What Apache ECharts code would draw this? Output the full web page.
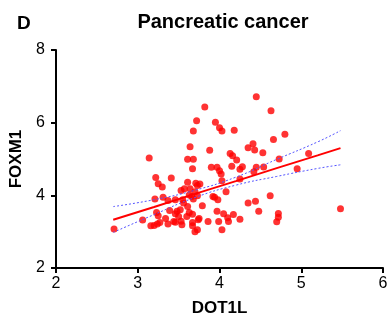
<!DOCTYPE html>
<html>
<head>
<meta charset="utf-8">
<script src="https://cdn.jsdelivr.net/npm/echarts@6/dist/echarts.min.js"></script>
<style>
    html, body { margin: 0; padding: 0; background: #fff; }
    #main { width: 391px; height: 322px; }
</style>
</head>
<body>
<div id="main"></div>
<script type="text/javascript">
// DOT1L (x) vs FOXM1 (y)
var dot1l = [2.71, 3.14, 3.06, 3.22, 3.25, 3.30, 3.41, 3.21, 3.31, 3.37,
    3.23, 3.25, 3.16, 3.20, 3.24, 3.27, 3.34, 3.37, 3.39, 3.44,
    3.46, 3.48, 3.50, 3.52, 3.54, 3.55, 3.56, 3.61, 3.60, 3.53,
    3.57, 3.61, 3.64, 3.63, 3.66, 3.68, 3.67, 3.67, 3.67, 3.70,
    3.73, 3.74, 3.75, 3.71, 3.73, 3.76, 3.73, 3.79, 3.61, 3.68,
    3.67, 3.64, 3.68, 3.72, 3.82, 3.88, 3.90, 3.86, 3.92, 3.94,
    3.98, 3.97, 3.99, 4.03, 4.05, 4.10, 4.11, 4.17, 4.25, 4.08,
    4.03, 4.02, 4.00, 3.97, 3.95, 4.00, 4.03, 4.18, 4.13, 4.16,
    4.21, 4.15, 4.25, 4.28, 4.25, 4.35, 4.41, 4.43, 4.53, 4.45,
    4.63, 4.66, 4.80, 4.45, 4.42, 4.54, 4.73, 4.95, 5.09, 4.35,
    4.44, 4.48, 4.62, 4.72, 4.72, 4.70, 5.48, 3.70, 3.46, 3.63,
    3.46, 3.53];
var foxm1 = [3.07, 5.03, 3.32, 4.49, 4.32, 4.23, 4.48, 3.90, 3.95, 3.86,
    3.53, 3.44, 3.16, 3.17, 3.21, 3.25, 3.36, 3.21, 3.58, 3.28,
    3.49, 3.56, 3.42, 3.60, 3.19, 3.88, 3.79, 3.69, 3.42, 4.13,
    4.18, 4.36, 4.18, 4.01, 3.97, 3.90, 3.48, 3.25, 3.16, 3.00,
    3.05, 3.33, 3.36, 4.33, 4.27, 4.31, 3.99, 3.71, 4.99, 4.99,
    4.73, 5.34, 5.77, 6.05, 6.43, 5.24, 4.77, 3.28, 3.97, 3.95,
    3.88, 3.56, 3.28, 3.05, 3.49, 3.38, 3.28, 3.47, 3.34, 4.10,
    4.40, 4.59, 4.68, 4.77, 6.01, 5.86, 5.77, 5.79, 5.15, 5.09,
    4.97, 4.80, 4.72, 4.79, 4.45, 5.31, 5.42, 5.25, 5.17, 6.71,
    6.33, 5.54, 5.68, 4.77, 4.65, 4.78, 5.00, 4.73, 5.15, 3.79,
    3.84, 3.56, 3.99, 3.50, 3.40, 3.27, 3.63, 4.10, 3.88, 3.53,
    3.26, 3.29];

// fitted line and 95% band
var fitX = [2.70, 3.20, 3.70, 4.20, 4.70, 5.20, 5.48];
var fitY = [3.33, 3.68, 4.04, 4.39, 4.75, 5.10, 5.30];
var bandUpper = [3.69, 3.88, 4.14, 4.50, 4.99, 5.47, 5.78];
var bandLower = [2.98, 3.47, 3.94, 4.28, 4.52, 4.74, 4.84];

var xTicks = [2, 3, 4, 5, 6];
var yTicks = [2, 4, 6, 8];

function pairs(xs, ys) {
    var out = [];
    for (var i = 0; i < xs.length; i++) out.push([xs[i], ys[i]]);
    return out;
}

var font = 'Liberation Sans, Arial, sans-serif';
var axisLine = { show: true, onZero: false, lineStyle: { color: '#000', width: 2 } };

var myChart = echarts.init(document.getElementById('main'));
var option = {
    animation: false,
    backgroundColor: '#fff',
    title: [{
        text: 'Pancreatic cancer',
        left: 218, top: 7, textAlign: 'center',
        textStyle: { fontFamily: font, fontSize: 20, fontWeight: 'bold', color: '#000' }
    }, {
        text: 'D',
        left: 12, top: 9,
        textStyle: { fontFamily: font, fontSize: 19, fontWeight: 'bold', color: '#000' }
    }],
    grid: { left: 56, right: 8, top: 50, bottom: 54 },
    xAxis: {
        type: 'value', min: 2, max: 6, interval: 1,
        name: 'DOT1L', nameLocation: 'middle', nameGap: 32,
        nameTextStyle: { fontFamily: font, fontSize: 17, fontWeight: 'bold', color: '#000' },
        axisLine: axisLine,
        axisTick: { show: true, length: 5, lineStyle: { color: '#000', width: 2 } },
        axisLabel: { fontFamily: font, fontSize: 16, color: '#000', margin: 8,
            formatter: function (v) { return xTicks.indexOf(v) >= 0 ? String(v) : ''; } },
        splitLine: { show: false }
    },
    yAxis: {
        type: 'value', min: 2, max: 8, interval: 2,
        name: 'FOXM1', nameLocation: 'middle', nameGap: 29,
        nameTextStyle: { fontFamily: font, fontSize: 17, fontWeight: 'bold', color: '#000' },
        axisLine: axisLine,
        axisTick: { show: true, length: 5, lineStyle: { color: '#000', width: 2 } },
        axisLabel: { fontFamily: font, fontSize: 16, color: '#000', margin: 11,
            formatter: function (v) { return yTicks.indexOf(v) >= 0 ? String(v) : ''; } },
        splitLine: { show: false }
    },
    series: [{
        name: 'samples',
        type: 'scatter',
        symbolSize: 7,
        itemStyle: { color: '#ff0000' },
        data: pairs(dot1l, foxm1),
        z: 3
    }, {
        name: 'upper',
        type: 'line', smooth: true, symbol: 'none',
        lineStyle: { color: '#5555ff', width: 1, type: [2, 2] },
        data: pairs(fitX, bandUpper),
        z: 4
    }, {
        name: 'lower',
        type: 'line', smooth: true, symbol: 'none',
        lineStyle: { color: '#5555ff', width: 1, type: [2, 2] },
        data: pairs(fitX, bandLower),
        z: 4
    }, {
        name: 'fit',
        type: 'line', symbol: 'none',
        lineStyle: { color: '#ff0000', width: 2 },
        data: pairs(fitX, fitY),
        z: 5
    }]
};
myChart.setOption(option);
</script>
</body>
</html>
